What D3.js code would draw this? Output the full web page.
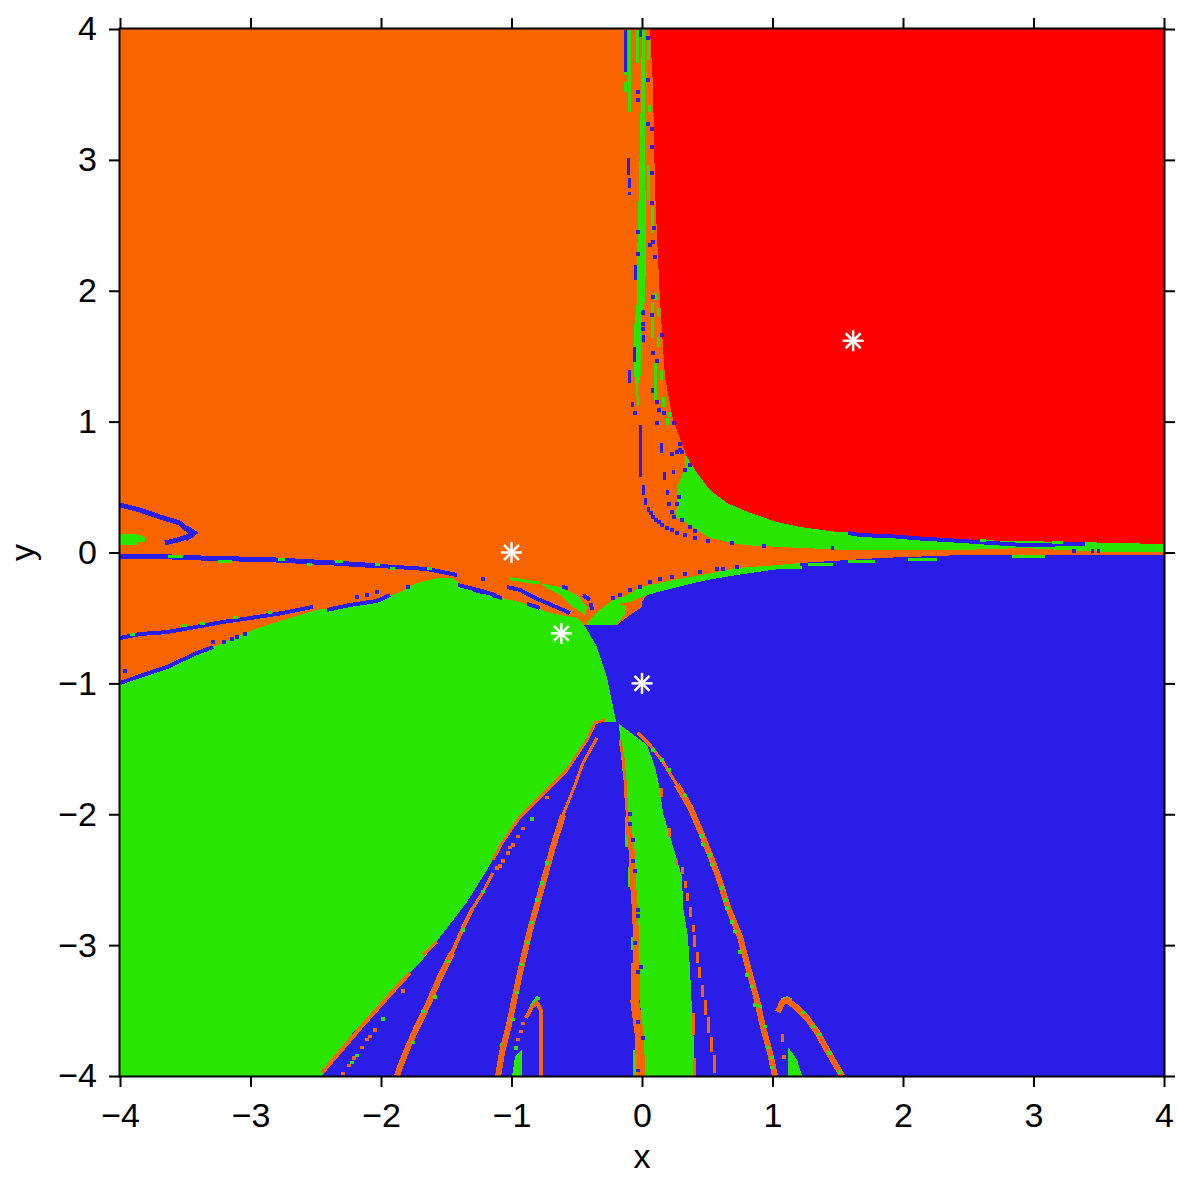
<!DOCTYPE html>
<html><head><meta charset="utf-8">
<script src="https://cdn.jsdelivr.net/npm/d3@7"></script>
<style>html,body{margin:0;background:#fff}svg{display:block}text{font-family:"Liberation Sans",Arial,sans-serif;fill:#000}</style>
</head><body><svg id="c" width="1195" height="1178"></svg>
<script>
// ---- values, in chart units ----
const xTicks=[-4,-3,-2,-1,0,1,2,3,4], yTicks=[-4,-3,-2,-1,0,1,2,3,4];
const roots=[[1.618,1.618],[-1,0],[-0.618,-0.618],[0,-1]];
const orangeBasin=[[-4,4],[4,4],[4,-.02],[2.437,-.02],[1.824,-.042],[1.211,-.08],[.728,-.172],[.498,-.21],[.238,-.272],[.038,-.325],[0,-.378],[0,-.416],[-.092,-.477],[-.192,-.554],[-.421,-.554],[-4,-1]];
const redBasin=[[.061,4],[.084,3.571],[.1,2.769],[.123,2.235],[.138,1.929],[.176,1.341],[.238,1.012],[.276,.913],[.345,.73],[.421,.607],[.521,.477],[.651,.378],[.828,.302],[1.034,.233],[1.211,.195],[1.494,.157],[1.801,.141],[2.077,.118],[2.383,.103],[2.797,.088],[3.356,.08],[3.609,.073],[4,.065],[4,4]];
const greenBasin=[[-4,-.997],[-3.64,-.875],[-3.287,-.722],[-2.981,-.592],[-2.751,-.516],[-2.49,-.439],[-2.107,-.386],[-1.854,-.302],[-1.724,-.233],[-1.571,-.195],[-1.456,-.195],[-1.341,-.271],[-1.165,-.325],[-.912,-.386],[-.705,-.462],[-.498,-.5],[-.452,-.539],[-.345,-.722],[-.268,-.955],[-.222,-1.18],[-.199,-1.295],[-.345,-1.295],[-.421,-1.409],[-.575,-1.662],[-.805,-1.875],[-.958,-2.059],[-1.088,-2.25],[-1.188,-2.426],[-1.341,-2.67],[-1.494,-2.869],[-1.701,-3.136],[-1.854,-3.289],[-2.031,-3.472],[-2.215,-3.671],[-2.337,-3.824],[-2.452,-4],[-4,-4]];
const greenLobe=[[.33,.9],[.33,.646],[.276,.516],[.261,.271],[.521,.111],[.774,.057],[1.057,.042],[1.571,.019],[2.437,.019],[2.92,.034],[3.563,.004],[4,.004],[4,.2],[1,.5]];
const greenStrip=[[-.421,-.531],[-.345,-.455],[-.222,-.363],[-.115,-.325],[-.015,-.264],[.238,-.21],[.498,-.164],[.728,-.118],[1.057,-.095],[1.211,-.08],[1.211,-.103],[.728,-.172],[.498,-.21],[.238,-.271],[.038,-.325],[-.092,-.378],[-.184,-.393],[-.123,-.409],[-.13,-.47],[-.192,-.55],[-.421,-.554]];
const greenLens=[[-.782,-.233],[-.628,-.264],[-.498,-.325],[-.421,-.416],[-.437,-.477],[-.529,-.416],[-.628,-.325],[-.728,-.271]];
const greenNeedle=[[0,4],[.023,4],[.023,3.19],[.031,2.311],[.023,1.929],[.008,1.853],[-.008,1.723],[-.008,1.356],[-.031,1.28],[-.023,1.119],[-.038,1.119],[-.046,1.28],[-.061,1.356],[-.061,1.723],[-.038,1.929],[-.038,2.235],[-.015,3.152]];
const greenWedge=[[-.176,-1.31],[.038,-1.47],[.1,-1.639],[.138,-1.815],[.161,-1.99],[.23,-2.219],[.307,-2.479],[.314,-2.708],[.352,-2.937],[.368,-3.19],[.383,-3.495],[.398,-3.747],[.406,-4],[.023,-4],[.008,-3.72],[-.031,-3.243],[-.038,-2.731],[-.069,-2.426],[-.107,-2.044],[-.13,-1.815],[-.153,-1.639]];
const greenBlock=[[-4,.141],[-3.87,.141],[-3.81,.118],[-3.81,.08],[-3.87,.08],[-3.87,.057],[-4,.057]];
const greenSpikes=[[[-.996,-4],[-.973,-3.855],[-.92,-3.8],[-.92,-4]],[[1.119,-4],[1.119,-3.778],[1.188,-3.877],[1.226,-4]]];

const blueHeavy=[
 [[-4,.363],[-3.847,.325],[-3.693,.271],[-3.54,.225],[-3.464,.156]],
 [[-3.441,.134],[-3.563,.095],[-3.655,.073]],
 [[-4,-.034],[-3.617,-.034],[-3.387,-.042],[-2.812,-.057],[-2.368,-.08],[-2.008,-.103]],
 [[-3.49,.19],[-3.43,.15],[-3.5,.1]]
];
const blueLines=[
 [[-2.008,-.103],[-1.648,-.126],[-1.418,-.172]],
 [[-4,-.653],[-3.847,-.623],[-3.64,-.608],[-3.464,-.577],[-3.211,-.531],[-3.004,-.501],[-2.751,-.462],[-2.521,-.416]],
 [[-4,-.997],[-3.824,-.936],[-3.64,-.875],[-3.41,-.768],[-3.287,-.722]],
 [[-2.414,-.439],[-2.238,-.401],[-2.031,-.37],[-1.931,-.325]],
 [[-1.41,-.248],[-1.257,-.286],[-1.126,-.325]],
 [[-1.034,-.264],[-.935,-.286],[-.835,-.34],[-.728,-.386],[-.605,-.439],[-.552,-.462]],
 [[-.613,-.264],[-.567,-.271]],[[-.452,-.325],[-.398,-.363]],[[-.391,-.386],[-.383,-.439]],
 [[-1.295,-.286],[-1.218,-.302]],[[-1.149,-.325],[-1.073,-.348]],[[-.881,-.393],[-.782,-.424]],
 [[1.579,.149],[1.67,.134],[1.939,.122],[2.13,.107],[2.383,.092],[2.797,.065],[2.92,.057],[3.395,.065]]
];
const blueBars=[[-.13,3.992,3.67],[-.015,3.992,3.938],[-.1,3.014,2.884],[-.092,2.861,2.785],[-.092,2.754,2.731],[-.046,2.196,2.082],[.008,1.853,1.814],[.008,1.662,1.608],[-.054,1.57,1.455],[-.092,1.394,1.295],[.084,1.257,1.218],[-.069,1.15,1.112],[-.008,.974,.577],[.008,.516,.439],[.023,.416,.363],[.046,.348,.309],[.153,.837,.76],[.169,.615,.554],[.245,.63,.6],[.192,.477,.439]];
const blueDots=[[.046,3.931],[.046,3.61],[-.031,3.518],[-.031,3.457],[.046,3.273],[.077,3.235],[.077,3.098],[.077,2.899],[.077,2.67],[.092,2.479],[.084,2.372],[.061,2.349],[.1,2.257],[-.031,2.448],[-.031,2.28],[.084,1.952],[.008,1.83],[.077,1.814],[.008,1.746],[.008,1.707],[.153,1.662],[.084,1.524],[.115,1.463],[.115,1.15],[-.054,1.066],[.13,1.089],[.169,1.066],[.115,.989],[.245,.989],[.069,.302],[.084,.271],[.107,.248],[.13,.233],[.153,.21],[.192,.187],[.23,.172],[.268,.149],[.33,.134],[.406,.111],[.506,.088],[.69,.073],[.935,.05],[.207,.37],[.268,.37],[.23,.309],[.245,.271],[.307,.248],[.368,.195],[.406,.164],[.291,.829],[.291,.783],[.268,.768],[.307,.768],[.23,.752],[.368,.668],[.33,.63],[.284,.424],
 [-3.287,-.684],[-3.203,-.684],[-3.142,-.661],[-3.103,-.646],[-3.042,-.623],[-3.962,-.905],[-2.184,-.34],[-2.107,-.325],[-2.031,-.302],[-1.793,-.264],[-1.218,-.202],
 [-.222,-.348],[-.169,-.325],[-.092,-.286],[-.015,-.264],[.061,-.225],[.138,-.202],[.23,-.187],[.33,-.164],[.444,-.149],[.575,-.126],[.621,-.126],[.728,-.111],
 [-.092,-1.998],[-.092,-2.074],[-.069,-2.196],[-.069,-2.357],[-.054,-2.433],[-.031,-2.731],[-.031,-2.777],[-.054,-2.983],[-.008,-3.167],[-.031,-3.205],[-.031,-3.587],[.008,-3.71],[-.031,-3.96],
 [3.31,.012],[3.45,.012],[3.5,.012],[1.46,.035]];
const greenBars=[[-.092,3.992,3.365],[-.031,3.992,3.74],[.046,3.938,3.762],[.061,3.419,3.365],[.046,2.96,2.693],[.077,2.639,2.441],[-.13,3.67,3.648],[-.13,3.594,3.518],[.1,1.982,1.929],[.084,1.906,1.776],[.123,1.868,1.799],[.084,1.776,1.639],[.123,1.646,1.57],[.1,1.448,1.165],[.153,1.394,1.318],[.161,1.188,1.112],[.207,1.073,1.035],[.192,1.028,.974],
 [-1.073,-3.75,-3.9],[-.061,-3.8,-4],[-.069,-2.937,-3.036],[-.092,-2.4,-2.555],[-.115,-2.02,-2.25]];
const greenDashes=[[-3.632,-3.517,-.027],[-3.249,-3.142,-.065],[-2.789,-2.736,-.05],[-2.352,-2.291,-.065],[-2.567,-2.529,-.088],[-2.046,-2.008,-.088],[-1.931,-1.893,-.126],[-1.648,-1.609,-.126],[-3.525,-3.487,-.561],[-3.387,-3.349,-.539],[-3.134,-3.096,-.5],[-2.866,-2.835,-.462],[-3.923,-3.885,-.623],[2.038,2.261,-.05],[2.835,3.088,-.027],[1.579,1.785,-.065],[1.272,1.464,-.088],[1.057,1.226,-.111],[3.142,3.226,.073],[2.59,2.636,.088]];
const greenArcs=[[[-1.011,-.202],[-.935,-.21],[-.858,-.225],[-.782,-.233]],[[-.851,-3.465],[-.805,-3.403],[-.782,-3.41]],[[1.065,-3.419],[1.111,-3.403],[1.149,-3.419]]];
const greenDots=[[-.843,-2.036],[-1.985,-3.564],[-2.184,-3.846],[-2.222,-3.9],[-.966,-3.786],[-.728,-2.372],[-.766,-2.525],[-.805,-2.655],[-.843,-2.83],[-.881,-2.983],[-.92,-3.151],[-.958,-3.365],[-.989,-3.571],[-1.218,-2.593],[-1.372,-2.884],[-1.487,-3.128],[-1.586,-3.396],[-1.678,-3.51],[-1.755,-3.747],[.084,-1.509],[.153,-1.585],[.207,-1.662],[.33,-1.86],[.46,-2.166],[.467,-2.234],[.521,-2.311],[.536,-2.387],[.613,-2.563],[.636,-2.655],[.651,-2.716],[.69,-2.823],[.713,-2.899],[.751,-3.052],[.805,-3.228],[.843,-3.319],[.866,-3.457],[.904,-3.472],[.943,-3.625],[.966,-3.785],[.996,-3.861],[.996,-3.938],[1.234,-3.518],[1.31,-3.625],[1.364,-3.686],[1.441,-3.824],[1.517,-3.969]];
const orangeThin=[
 [[-1.678,-3.075],[-1.571,-2.976]],
 [[-1.142,-2.349],[-1.073,-2.219],[-.935,-2.021],[-.728,-1.815],[-.575,-1.662],[-.421,-1.432],[-.36,-1.302],[-.284,-1.279]],
 [[-.345,-1.417],[-.452,-1.608],[-.513,-1.776],[-.605,-2.006]],
 [[-.031,-1.379],[.061,-1.47],[.161,-1.6],[.268,-1.776]],
 [[-1.142,-2.448],[-1.218,-2.593],[-1.295,-2.716]],
 [[-.169,-1.432],[-.146,-1.562],[-.13,-1.738],[-.123,-1.868],[-.107,-2.067]]
];
const orangeMedium=[
 [[-2.452,-3.976],[-2.314,-3.815],[-2.138,-3.609],[-1.877,-3.319],[-1.778,-3.212]],
 [[-.889,-3.556],[-.843,-3.472],[-.805,-3.441],[-.774,-3.495],[-.774,-4]],
 [[-1.295,-2.716],[-1.372,-2.869],[-1.456,-3.06]]
];
const orangeThick=[
 [[-.605,-2.006],[-.682,-2.25],[-.766,-2.555],[-.858,-2.884],[-.935,-3.212],[-1.011,-3.571],[-1.073,-3.823],[-1.103,-4]],
 [[-1.456,-3.06],[-1.548,-3.243],[-1.648,-3.472],[-1.724,-3.625],[-1.793,-3.778],[-1.854,-3.931],[-1.877,-4]],
 [[.268,-1.776],[.368,-1.944],[.444,-2.12],[.506,-2.273],[.575,-2.449],[.659,-2.708],[.751,-2.937],[.812,-3.167],[.881,-3.419],[.927,-3.625],[.981,-3.823],[1.019,-4]],
 [[1.042,-3.51],[1.073,-3.442],[1.111,-3.419],[1.188,-3.48],[1.264,-3.556],[1.341,-3.663],[1.418,-3.801],[1.494,-3.931],[1.533,-4]],
 [[-.107,-2.067],[-.077,-2.296],[-.069,-2.525],[-.054,-2.731],[-.046,-2.937],[-.046,-3.136]]
];
const orangeBroad=[[[-.046,-3.136],[-.054,-3.44],[-.023,-3.67],[-.008,-4]]];
const orangeBars=[[.153,-1.8,-1.87],[.207,-2.105,-2.175],[.268,-2.35,-2.39],[.307,-2.4,-2.46],[.33,-2.51,-2.56],[.345,-2.6,-2.66],[.368,-2.71,-2.785],[.391,-2.845,-2.9],[.406,-2.92,-3.015],[.429,-3.05,-3.135],[.444,-3.17,-3.25],[.467,-3.305,-3.395],[.49,-3.42,-3.535],[.506,-3.55,-3.67],[.529,-3.7,-3.815],[.552,-3.84,-3.975],[.391,-3.52,-3.69],[.406,-3.86,-4],[1.073,-3.68,-3.74]];
const orangeDots=[[-.989,-2.235],[-1.011,-2.257],[-1.027,-2.296],[-1.065,-2.357],[-1.088,-2.395],[-1.111,-2.411],[-.95,-2.173],[-.912,-2.112],[-.728,-1.875],[-1.831,-3.35],[-2.046,-3.648],[-2.084,-3.701],[-2.107,-3.724],[-2.146,-3.785],[-2.207,-3.862],[-2.245,-3.923],[-2.291,-3.984],[-.912,-3.602],[-.927,-3.663],[-.95,-3.724],[1.088,-3.855]];

// ---- drawing ----
const C={orange:"#F86500",red:"#FF0000",green:"#28E600",blue:"#2A1DE8"};
const L=120,R=1164,T=29,B=1076;
const x=d3.scaleLinear().domain([-4,4]).range([L,R]);
const y=d3.scaleLinear().domain([-4,4]).range([B,T]);
const svg=d3.select("#c");
svg.append("defs").append("clipPath").attr("id","plot").append("rect").attr("x",L).attr("y",T).attr("width",R-L).attr("height",B-T);
const g=svg.append("g").attr("clip-path","url(#plot)");
const line=d3.line().x(d=>x(d[0])).y(d=>y(d[1]));
g.append("rect").attr("x",x(-4)).attr("y",y(4)).attr("width",x(4)-x(-4)).attr("height",y(-4)-y(4)).attr("fill",C.blue);
function polys(list,color){g.append("g").selectAll("path").data(list).join("path").attr("d",d=>line(d)+"Z").attr("fill",color).attr("shape-rendering","crispEdges");}
function lines(list,color,w){g.append("g").selectAll("path").data(list).join("path").attr("d",line).attr("fill","none").attr("stroke",color).attr("stroke-width",w).attr("shape-rendering","crispEdges");}
function dots(list,color,n){const c=0.02*n;g.append("g").selectAll("rect").data(list).join("rect").attr("x",d=>x(d[0]-c/2)).attr("y",d=>y(d[1]+c/2)).attr("width",x(c)-x(0)).attr("height",y(0)-y(c)).attr("fill",color).attr("shape-rendering","crispEdges");}
const vert=a=>a.map(([p,q,r])=>[[p,q],[p,r]]);
const horiz=a=>a.map(([p,q,r])=>[[p,r],[q,r]]);

polys([orangeBasin],C.orange);
polys([greenLobe],C.green);
polys([redBasin],C.red);
polys([greenBasin,greenStrip,greenLens,greenNeedle,greenWedge,greenBlock],C.green);
polys(greenSpikes,C.green);
lines(blueHeavy,C.blue,5);
lines(blueLines,C.blue,4);
lines(vert(blueBars),C.blue,3);
lines(vert(greenBars),C.green,3);
lines(horiz(greenDashes),C.green,3);
lines(greenArcs,C.green,3);
lines(orangeThin,C.orange,3);
lines(orangeMedium,C.orange,4);
lines(orangeThick,C.orange,6);
lines(orangeBroad,C.orange,9);
lines(vert(orangeBars),C.orange,3);
dots(orangeDots,C.orange,1.2);
dots(greenDots,C.green,1.2);
dots(blueDots,C.blue,1.3);

// root markers
const star=svg.append("g").selectAll("g").data(roots).join("g").attr("transform",d=>`translate(${x(d[0])},${y(d[1])})`);
[[-10.5,0,10.5,0],[0,-10.5,0,10.5],[-7.5,-7.5,7.5,7.5],[-7.5,7.5,7.5,-7.5]].forEach(s=>{
 star.append("line").attr("x1",s[0]).attr("y1",s[1]).attr("x2",s[2]).attr("y2",s[3]).attr("stroke","#fff").attr("stroke-width",2.5);
});

// axes
const fmt=d=>String(d).replace("-","\u2212");
function axis(gen,tx,ty,labels,pad){
 const a=svg.append("g").attr("transform",`translate(${tx},${ty})`).call(gen.tickValues(xTicks).tickSize(11).tickSizeOuter(0).tickPadding(pad).tickFormat(labels?fmt:""));
 a.select(".domain").remove();
 a.selectAll("line").attr("stroke","#000").attr("stroke-width",2);
 a.selectAll("text").attr("font-size",34).attr("font-family",'"Liberation Sans",Arial,sans-serif').attr("fill","#000");
 return a;
}
axis(d3.axisBottom(x),0,B,true,16);
axis(d3.axisTop(x),0,T,false,0);
axis(d3.axisLeft(y),L,0,true,12);
axis(d3.axisRight(y),R,0,false,0);
svg.append("rect").attr("x",L-.5).attr("y",T-.5).attr("width",R-L+1).attr("height",B-T+1).attr("fill","none").attr("stroke","#000").attr("stroke-width",2);
svg.append("text").attr("x",(L+R)/2).attr("y",1168).attr("text-anchor","middle").attr("font-size",34).text("x");
svg.append("text").attr("transform",`translate(34,${(T+B)/2}) rotate(-90)`).attr("text-anchor","middle").attr("font-size",34).text("y");
</script></body></html>
